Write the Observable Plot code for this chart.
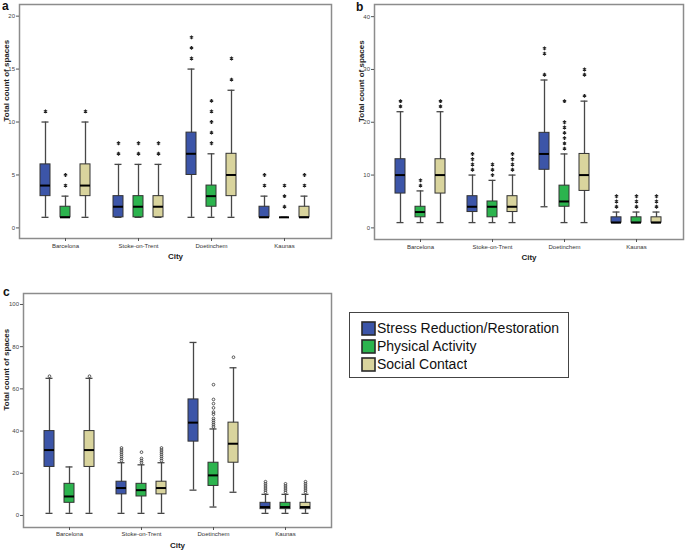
<!DOCTYPE html>
<html>
<head>
<meta charset="utf-8">
<script src="https://cdn.jsdelivr.net/npm/d3@7"></script>
<script src="https://cdn.jsdelivr.net/npm/@observablehq/plot@0.6"></script>
<style>
  html, body { margin: 0; padding: 0; background: #fff; }
  #root { position: relative; width: 685px; height: 552px; background: #fff; overflow: hidden;
          font-family: "Liberation Sans", Arial, sans-serif; }
  .panel { position: absolute; }
  .plabel { position: absolute; font: bold 12px "Liberation Sans", Arial, sans-serif; line-height: 12px; color: #111; }
  #legend { position: absolute; left: 349px; top: 312px; width: 220px; height: 66px; box-sizing: border-box;
            border: 1px solid #444; padding: 7px 0 0 12px; background: #fff; }
  #legend .lg-swatch > svg { margin-right: 2px; overflow: visible; }
  #legend .lg-swatch { line-height: 17px; padding-bottom: 1px; }
  #legend svg rect { stroke: #2a2a2a; stroke-width: 1.6; }
</style>
</head>
<body>
<div id="root">
  <div class="plabel" style="left:2px;top:0px">a</div>
  <div class="plabel" style="left:356px;top:1px">b</div>
  <div class="plabel" style="left:3px;top:286px">c</div>
  <div id="legend"></div>
</div>
<script>
// ---------- data ----------
const cities = ["Barcelona", "Stoke-on-Trent", "Doetinchem", "Kaunas"];
const groups = ["Stress Reduction/Restoration", "Physical Activity", "Social Contact"];

// box statistics, rows = cities, columns = groups: [low whisker, Q1, median, Q3, high whisker]
const statsA = [
  [[1, 3, 4, 6, 10], [1, 1, 1, 2, 3], [1, 3, 4, 6, 10]],
  [[1, 1, 2, 3, 6], [1, 1, 2, 3, 6], [1, 1, 2, 3, 6]],
  [[1, 5, 7, 9, 15], [1, 2, 3, 4, 7], [1, 3, 5, 7, 13]],
  [[1, 1, 1, 2, 3], [1, 1, 1, 1, 1], [1, 1, 1, 2, 3]]
];
const outliersA = [
  [[11], [4, 5], [11]],
  [[7, 8], [7, 8], [7, 8]],
  [[16, 17, 18], [8, 9, 10, 11, 12], [14, 16]],
  [[4, 5], [2, 3, 4], [4, 5]]
];
const statsB = [
  [[1, 6.5, 10, 13, 22], [1, 2, 3, 4, 7], [1, 6.5, 10, 13, 22]],
  [[1, 3, 4, 6, 10], [1, 2, 4, 5, 9], [1, 3, 4, 6, 10]],
  [[4, 11, 14, 18, 28], [1, 4, 5, 8, 14], [1, 7, 10, 14, 24]],
  [[1, 1, 1, 2, 3], [1, 1, 1, 2, 3], [1, 1, 1, 2, 3]]
];
const outliersB = [
  [[23, 24], [8, 9], [23, 24]],
  [[11, 12, 13, 14], [10, 11, 12], [11, 12, 13, 14]],
  [[29, 33, 34], [15, 16, 17, 18, 19, 20, 24], [25, 29, 30]],
  [[4, 5, 6], [4, 5, 6], [4, 5, 6]]
];
const statsC = [
  [[1, 23, 31, 40, 65], [1, 6, 9, 15, 23], [1, 23, 31, 40, 65]],
  [[1, 10, 13, 16, 25], [1, 9, 12, 15, 24], [1, 10, 13, 16, 25]],
  [[12, 35, 44, 55, 82], [4, 14, 19, 25, 41], [11, 25, 34, 44, 70]],
  [[1, 3, 4, 6, 10], [1, 3, 4, 6, 10], [1, 3, 4, 6, 10]]
];
const outliersC = [
  [[66], [], [66]],
  [[26, 27, 28, 29, 30, 31, 32], [25, 26, 27, 30], [26, 27, 28, 29, 30, 31, 32]],
  [[], [42, 43, 44, 45, 46, 48, 49, 51, 53, 55, 62], [75]],
  [[11, 12, 13, 14, 15, 16], [11, 12, 13, 14, 15], [11, 12, 13, 14, 15, 16]]
];
const yTicksA = [0, 5, 10, 15, 20];
const yTicksB = [0, 10, 20, 30, 40];
const yTicksC = [0, 20, 40, 60, 80, 100];
const xTitle = "City";
const yTitle = "Total count of spaces";

// ---------- styles ----------
const colors = ["#3c55a8", "#2cb44e", "#d9d49d"];
const groupDx = [-20, 0, 20];
const font = "'Liberation Sans', Arial, sans-serif";

function boxTable(stats) {
  const rows = [];
  stats.forEach((row, ci) => row.forEach((s, gi) => rows.push({
    city: cities[ci], group: groups[gi], lo: s[0], q1: s[1], med: s[2], q3: s[3], hi: s[4]
  })));
  return rows;
}
function outlierTable(outs) {
  const rows = [];
  outs.forEach((row, ci) => row.forEach((vals, gi) => vals.forEach(v => rows.push({
    city: cities[ci], group: groups[gi], value: v
  }))));
  return rows;
}

function panel({stats, outs, yDomain, yTicks, width, height, ml, mr, mt, mb, xTickSize, xTickPad, yTitleDx, symbol}) {
  const boxes = boxTable(stats);
  const pts = outlierTable(outs);
  const marks = [
    Plot.frame({stroke: "#8c8c8c", strokeWidth: 1.5}),
    Plot.axisY(yTicks, {tickSize: 3, tickPadding: 1.5, fontSize: 6, label: null, stroke: "#555", fill: "#444"}),
    Plot.axisX({tickSize: xTickSize, tickPadding: xTickPad, fontSize: 6, label: null, stroke: "#555", fill: "#333"})
  ];
  groups.forEach((g, gi) => {
    const b = boxes.filter(d => d.group === g);
    const o = pts.filter(d => d.group === g);
    const dx = groupDx[gi];
    marks.push(
      Plot.ruleX(b, {x: "city", y1: "lo", y2: "hi", dx, stroke: "#474747", strokeWidth: 1.3}),
      Plot.tickY(b, {x: "city", y: "lo", dx, insetLeft: 1.5, insetRight: 1.5, stroke: "#474747", strokeWidth: 1.3}),
      Plot.tickY(b, {x: "city", y: "hi", dx, insetLeft: 1.5, insetRight: 1.5, stroke: "#474747", strokeWidth: 1.3}),
      Plot.barY(b, {x: "city", y1: "q1", y2: "q3", dx, fill: colors[gi], stroke: "#333", strokeWidth: 1}),
      Plot.tickY(b, {x: "city", y: "med", dx, stroke: "#000", strokeWidth: 2}),
      symbol === "circle"
        ? Plot.dot(o, {x: "city", y: "value", dx, r: 1.35, stroke: "#333", strokeWidth: 0.8, fill: "none"})
        : Plot.dot(o, {x: "city", y: "value", dx, r: 1.8, symbol: "asterisk", stroke: "#222", strokeWidth: 1.1})
    );
  });
  marks.push(
    Plot.text([xTitle], {text: d => d, frameAnchor: "bottom", dy: 20, fontSize: 8, fontWeight: "bold", fill: "#222"}),
    Plot.text([yTitle], {text: d => d, frameAnchor: "left", dx: yTitleDx, rotate: -90, fontSize: 8, fontWeight: "bold", fill: "#222"})
  );
  return Plot.plot({
    width, height,
    marginLeft: ml, marginRight: mr, marginTop: mt, marginBottom: mb,
    style: {fontFamily: font, fontSize: "6px", color: "#333", background: "transparent", overflow: "visible"},
    x: {type: "band", domain: cities, paddingInner: 0.86, paddingOuter: 0.565},
    y: {domain: yDomain},
    marks
  });
}

const root = document.getElementById("root");
function place(el, left, top) {
  el.classList.add("panel");
  el.style.left = left + "px";
  el.style.top = top + "px";
  root.appendChild(el);
}

place(panel({stats: statsA, outs: outliersA, yDomain: [-1.0, 21.1], yTicks: yTicksA,
  width: 340, height: 270, ml: 19, mr: 9, mt: 4, mb: 32, xTickSize: 3, xTickPad: 2, yTitleDx: -13, symbol: "asterisk"}), 0, 0);
place(panel({stats: statsB, outs: outliersB, yDomain: [-2.2, 42.3], yTicks: yTicksB,
  width: 345, height: 270, ml: 34, mr: 2, mt: 4, mb: 31, xTickSize: 3, xTickPad: 2, yTitleDx: -13, symbol: "asterisk"}), 340, 0);
place(panel({stats: statsC, outs: outliersC, yDomain: [-5.7, 105.2], yTicks: yTicksC,
  width: 340, height: 272, ml: 23, mr: 9, mt: 13, mb: 25, xTickSize: 3, xTickPad: 1, yTitleDx: -17, symbol: "circle"}), 0, 280);

const legend = Plot.legend({
  color: {type: "ordinal", domain: groups, range: colors},
  legend: "swatches", columns: 1, swatchSize: 13, className: "lg",
  style: {fontFamily: font, fontSize: "14px", color: "#111", margin: "0", background: "transparent"}
});
document.getElementById("legend").appendChild(legend);
</script>
</body>
</html>
